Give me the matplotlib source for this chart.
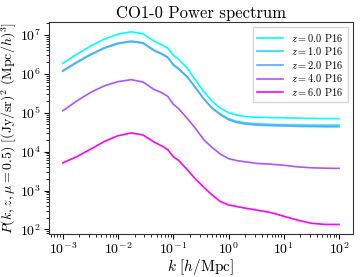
import numpy as np
import matplotlib
matplotlib.use('Agg')
import matplotlib.pyplot as plt

plt.rcParams['font.family'] = 'serif'
plt.rcParams['font.serif'] = ['cmr10']
plt.rcParams['mathtext.fontset'] = 'cm'
plt.rcParams['axes.formatter.use_mathtext'] = True

# log10 k [h/Mpc] sample points
logk = [-3.0, -2.75, -2.5, -2.25, -2.0, -1.76, -1.55, -1.35, -1.2, -1.1, -1.0,
        -0.9, -0.75, -0.6, -0.45, -0.3, -0.15, 0.0, 0.15, 0.3, 0.5, 0.75,
        1.0, 1.25, 1.5, 1.75, 2.0]

# log10 P for each redshift
logP_z0 = [6.27, 6.50, 6.71, 6.89, 7.02, 7.08, 7.03, 6.84, 6.74, 6.66, 6.48,
           6.37, 6.15, 5.84, 5.55, 5.30, 5.12, 5.00, 4.94, 4.90, 4.885, 4.875,
           4.87, 4.86, 4.855, 4.85, 4.85]
logP_z1 = [6.065, 6.285, 6.485, 6.655, 6.775, 6.825, 6.785, 6.595, 6.495, 6.415, 6.225,
           6.115, 5.92, 5.645, 5.36, 5.13, 4.97, 4.845, 4.775, 4.74, 4.715, 4.70,
           4.69, 4.685, 4.68, 4.68, 4.68]
logP_z2 = [6.08, 6.30, 6.50, 6.67, 6.79, 6.84, 6.80, 6.61, 6.51, 6.43, 6.24,
           6.13, 5.93, 5.65, 5.36, 5.12, 4.95, 4.82, 4.75, 4.71, 4.685, 4.67,
           4.66, 4.65, 4.645, 4.64, 4.64]
logP_z4 = [5.05, 5.30, 5.52, 5.69, 5.80, 5.85, 5.79, 5.60, 5.51, 5.42, 5.22,
           5.10, 4.86, 4.60, 4.31, 4.11, 3.94, 3.82, 3.77, 3.74, 3.70, 3.68,
           3.65, 3.61, 3.585, 3.575, 3.57]
logP_z6 = [3.71, 3.87, 4.06, 4.26, 4.41, 4.48, 4.43, 4.25, 4.14, 4.05, 3.87,
           3.77, 3.54, 3.30, 3.09, 2.89, 2.72, 2.63, 2.59, 2.55, 2.50, 2.44,
           2.34, 2.24, 2.16, 2.13, 2.13]

zs = [0.0, 1.0, 2.0, 4.0, 6.0]
curves = [logP_z0, logP_z1, logP_z2, logP_z4, logP_z6]

fig = plt.figure(figsize=(3.63, 2.77), dpi=100)
ax = fig.add_axes([0.135, 0.155, 0.837, 0.765])

cmap = plt.get_cmap('cool')
for z, lp in zip(zs, curves):
    ax.plot(10**np.array(logk), 10**np.array(lp), color=cmap(z / 6.0), lw=1.2,
            label=r'$z=$%.1f P16' % z)

ax.set_xscale('log')
ax.set_yscale('log')
ax.set_title('CO1-0 Power spectrum', fontsize=12, pad=3)
ax.set_xlabel(r'$k\ [h/\mathrm{Mpc}]$', fontsize=11, labelpad=0)
ax.set_ylabel(r'$P(k,z,\mu=0.5)\ [(\mathrm{Jy/sr})^2\ (\mathrm{Mpc}/h)^3]$',
              fontsize=10, labelpad=1)
ax.tick_params(labelsize=10, pad=2)
ax.legend(loc='upper right', fontsize=7.5, handlelength=2.5, labelspacing=0.15,
          borderpad=0.4, fancybox=False)
for s in ax.spines.values():
    s.set_color('#333333')

fig.savefig('out.png', dpi=100)
